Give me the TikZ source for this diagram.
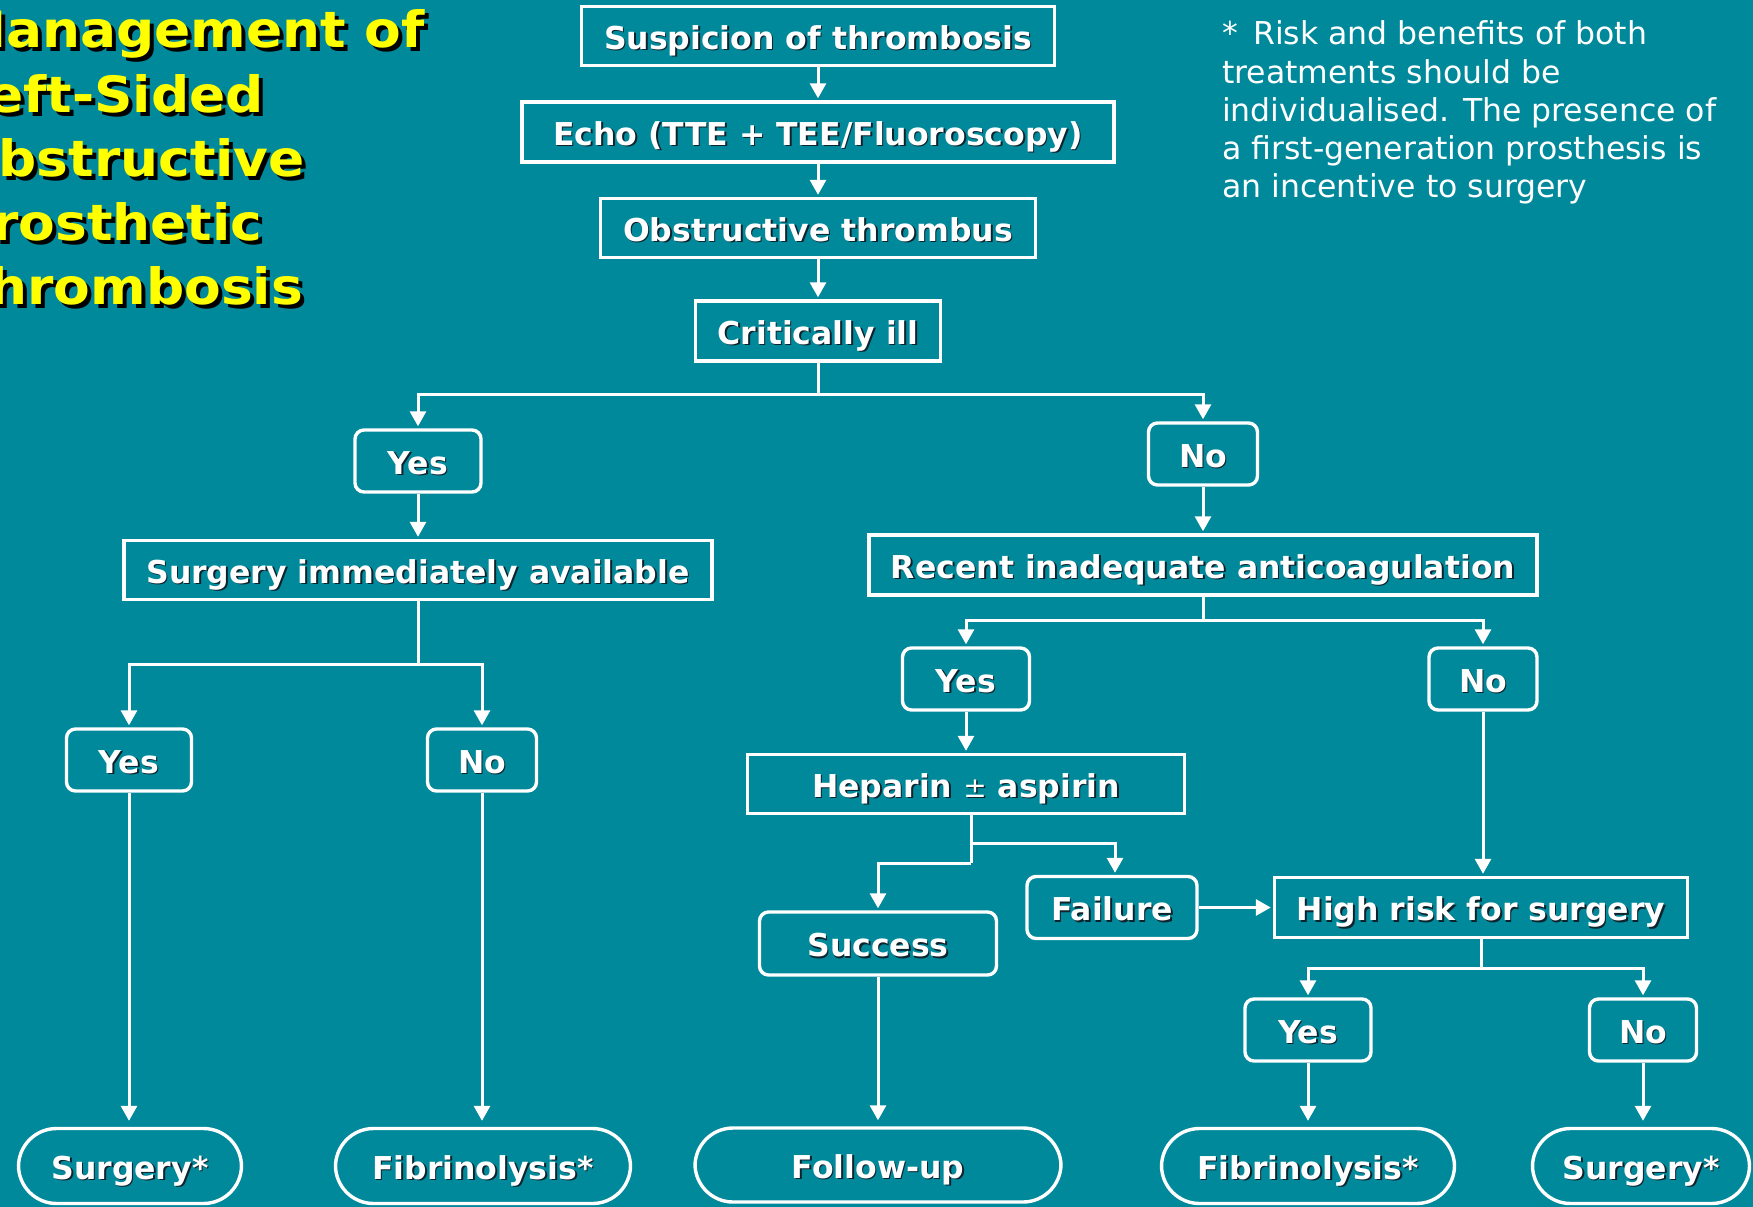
\documentclass[tikz,border=0pt]{standalone}
\usepackage{fontspec}
\setmainfont{DejaVu Sans}
\newfontfamily\ttlfont[FakeStretch=1.068]{DejaVu Sans}
\usetikzlibrary{arrows.meta}
\definecolor{bg}{RGB}{0,137,155}
\definecolor{ttl}{RGB}{255,255,0}
\definecolor{shdc}{RGB}{15,35,45}
\newcommand\shd[1]{\leavevmode\rlap{\kern1.6pt\raisebox{-1.6pt}{\color{shdc}#1}}#1}
\newcommand\tsh[1]{\leavevmode\rlap{\kern4pt\raisebox{-4pt}{\color{black}#1}}{\color{ttl}#1}}
\begin{document}
\begin{tikzpicture}[x=1pt,y=-1pt,
  box/.style={draw=white, line width=3.4pt, text=white, inner sep=0pt,
    text height=30pt, text depth=3.4pt,
    font=\fontsize{31.5}{36}\bfseries\selectfont},
  rbox/.style={box, rounded corners=9pt},
  term/.style={box, rounded corners=38pt},
  conn/.style={draw=white, line width=3pt},
  arr/.style={conn, -{Triangle[length=15pt,width=16pt]}, shorten >=2pt},
  tarr/.style={arr, shorten >=6pt},
  ttlline/.style={anchor=base west, inner sep=0pt, font=\fontsize{50}{64}\ttlfont\bfseries\selectfont},
  noteline/.style={anchor=base west, inner sep=0pt, text=white, font=\fontsize{31.5}{38}\selectfont}]
\useasboundingbox (0,0) rectangle (1753,1207);
\clip (0,0) rectangle (1753,1207);
\fill[bg] (0,0) rectangle (1753,1207);

% title
\node[ttlline] (t1) at (-47,48)  {\tsh{Management of}};
\node[ttlline] (t2) at (-47,112) {\tsh{Left-Sided}};
\node[ttlline] (t3) at (-47,176) {\tsh{Obstructive}};
\node[ttlline] (t4) at (-47,240) {\tsh{Prosthetic}};
\node[ttlline] (t5) at (-47,304) {\tsh{Thrombosis}};

% note
\node[noteline] (n1) at (1222,45)  {*\, Risk and benefits of both};
\node[noteline] (n2) at (1222,83)  {treatments should be};
\node[noteline] (n3) at (1222,121) {individualised. The presence of};
\node[noteline] (n4) at (1222,159) {a first-generation prosthesis is};
\node[noteline] (n5) at (1222,197) {an incentive to surgery};

% nodes
\node[box, minimum width=473pt, minimum height=59pt] (susp) at (818,36) {\shd{Suspicion of thrombosis}};
\node[box, minimum width=592pt, minimum height=60pt] (echo) at (818,132) {\shd{Echo (TTE + TEE/Fluoroscopy)}};
\node[box, minimum width=435pt, minimum height=59pt] (obst) at (818,228) {\shd{Obstructive thrombus}};
\node[box, minimum width=245pt, minimum height=60pt] (crit) at (818,331) {\shd{Critically ill}};

\node[rbox, minimum width=126pt, minimum height=62pt] (yes1) at (418,461) {\shd{Yes}};
\node[rbox, minimum width=109pt, minimum height=62pt] (no1) at (1203,454) {\shd{No}};

\node[box, minimum width=588pt, minimum height=59pt] (avail) at (418,570) {\shd{Surgery immediately available}};
\node[box, minimum width=668pt, minimum height=60pt] (recent) at (1203,565) {\shd{Recent inadequate anticoagulation}};

\node[rbox, minimum width=125pt, minimum height=62pt] (yes2) at (129,760) {\shd{Yes}};
\node[rbox, minimum width=109pt, minimum height=62pt] (no2) at (482,760) {\shd{No}};
\node[rbox, minimum width=127pt, minimum height=62pt] (yes3) at (966,679) {\shd{Yes}};
\node[rbox, minimum width=108pt, minimum height=62pt] (no3) at (1483,679) {\shd{No}};

\node[box, minimum width=437pt, minimum height=59pt] (hep) at (966,784) {\shd{Heparin {\fontsize{28}{30}\mdseries\selectfont ±} aspirin}};
\node[rbox, minimum width=170pt, minimum height=62pt] (fail) at (1112,907.5) {\shd{Failure}};
\node[rbox, minimum width=237pt, minimum height=63pt] (succ) at (878,943.5) {\shd{Success}};
\node[box, minimum width=413pt, minimum height=60pt] (high) at (1481,907.5) {\shd{High risk for surgery}};

\node[rbox, minimum width=126pt, minimum height=62pt] (yes4) at (1308,1030) {\shd{Yes}};
\node[rbox, minimum width=107pt, minimum height=62pt] (no4) at (1643,1030) {\shd{No}};

\node[term, minimum width=223pt, minimum height=75pt] (surg1) at (130,1166) {\shd{Surgery*}};
\node[term, minimum width=295pt, minimum height=75pt] (fib1) at (483,1166) {\shd{Fibrinolysis*}};
\node[term, minimum width=366pt, minimum height=74pt] (follow) at (878,1165) {\shd{Follow-up}};
\node[term, minimum width=293pt, minimum height=75pt] (fib2) at (1308,1166) {\shd{Fibrinolysis*}};
\node[term, minimum width=217pt, minimum height=75pt] (surg2) at (1641,1166) {\shd{Surgery*}};

% junctions
\coordinate (j1) at (818,394);
\coordinate (j2) at (418,664);
\coordinate (j3) at (1203,620);
\coordinate (hA) at (971,843);
\coordinate (hB) at (971,863);
\coordinate (j4) at (1481,968);

% connectors
\draw[arr] (susp) -- (echo);
\draw[arr] (echo) -- (obst);
\draw[arr] (obst) -- (crit);
\draw[conn] (crit.south) -- (j1);
\draw[arr] (j1) -| (yes1.north);
\draw[arr] (j1) -| (no1.north);
\draw[arr] (yes1) -- (avail);
\draw[arr] (no1) -- (recent);
\draw[conn] (avail.south) -- (j2);
\draw[arr] (j2) -| (yes2.north);
\draw[arr] (j2) -| (no2.north);
\draw[conn] (recent.south) -- (j3);
\draw[arr] (j3) -| (yes3.north);
\draw[arr] (j3) -| (no3.north);
\draw[arr] (yes3) -- (hep);
\draw[conn] ([xshift=5pt]hep.south) -- (hB);
\draw[arr] (hA) -| ([xshift=3pt]fail.north);
\draw[arr] (hB) -| (succ.north);
\draw[arr] (fail) -- (high);
\draw[arr] (no3.south) -- (no3.south |- high.north);
\draw[conn] (high.south) -- (j4);
\draw[arr] (j4) -| (yes4.north);
\draw[arr] (j4) -| (no4.north);
\draw[tarr] (yes2.south) -- (yes2.south |- surg1.north);
\draw[tarr] (no2.south) -- (no2.south |- fib1.north);
\draw[tarr] (succ.south) -- (succ.south |- follow.north);
\draw[tarr] (yes4.south) -- (yes4.south |- fib2.north);
\draw[tarr] (no4.south) -- (no4.south |- surg2.north);
\end{tikzpicture}
\end{document}
